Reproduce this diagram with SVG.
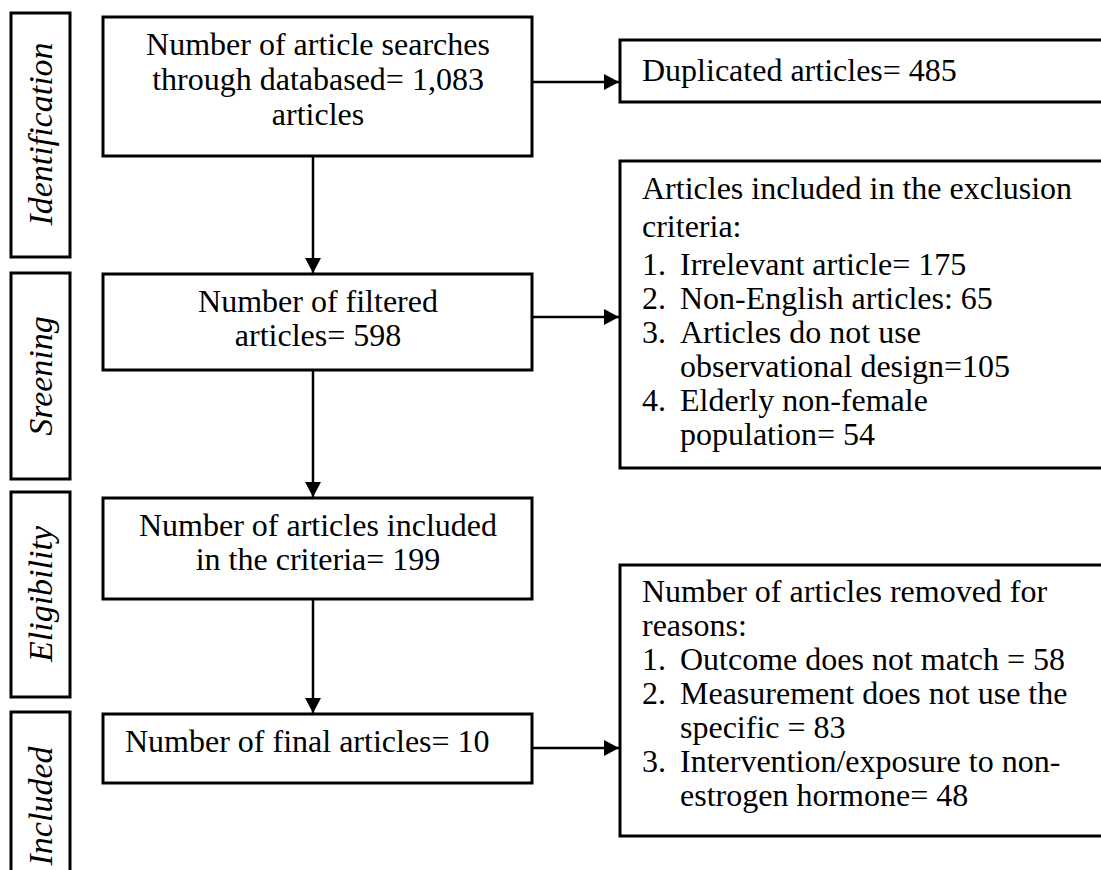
<svg xmlns="http://www.w3.org/2000/svg" width="1101" height="870" viewBox="0 0 1101 870">
<style>
  .box { fill: #ffffff; stroke: #000000; stroke-width: 3; }
  .t { font-family: "Liberation Serif", "Times New Roman", serif; font-size: 32px; fill: #000000; }
  .c { text-anchor: middle; }
  .lab { font-family: "Liberation Serif", "Times New Roman", serif; font-size: 34px; font-style: italic; fill: #000000; text-anchor: middle; }
  .conn { stroke: #000000; stroke-width: 2.5; fill: none; }
</style>
<defs>
  <marker id="arrow" markerUnits="userSpaceOnUse" markerWidth="16" markerHeight="16" refX="15" refY="8" orient="auto">
    <path d="M0,0 L15,8 L0,16 Z" fill="#000000"/>
  </marker>
</defs>
<rect width="1101" height="870" fill="#ffffff"/>

<g id="label-identification">
  <rect class="box" x="11" y="13" width="59" height="244"/>
  <text class="lab" transform="translate(52,134) rotate(-90)">Identification</text>
</g>
<g id="label-screening">
  <rect class="box" x="11" y="273" width="59" height="206"/>
  <text class="lab" transform="translate(52,376) rotate(-90)">Sreening</text>
</g>
<g id="label-eligibility">
  <rect class="box" x="11" y="492" width="59" height="205"/>
  <text class="lab" transform="translate(52,594) rotate(-90)">Eligibility</text>
</g>
<g id="label-included">
  <rect class="box" x="11" y="712" width="59" height="175"/>
  <text class="lab" transform="translate(52,806) rotate(-90)">Included</text>
</g>

<g id="node-searched">
  <rect class="box" x="103" y="17" width="429" height="139"/>
  <text class="t c" x="318" y="55">Number of article searches</text>
  <text class="t c" x="318" y="90">through databased= 1,083</text>
  <text class="t c" x="318" y="125">articles</text>
</g>
<g id="node-filtered">
  <rect class="box" x="103" y="274" width="429" height="96"/>
  <text class="t c" x="318" y="312">Number of filtered</text>
  <text class="t c" x="318" y="346">articles= 598</text>
</g>
<g id="node-criteria">
  <rect class="box" x="103" y="498" width="429" height="101"/>
  <text class="t c" x="318" y="536">Number of articles included</text>
  <text class="t c" x="318" y="570">in the criteria= 199</text>
</g>
<g id="node-final">
  <rect class="box" x="103" y="714" width="429" height="69"/>
  <text class="t" x="125" y="752">Number of final articles= 10</text>
</g>

<g id="node-duplicated">
  <rect class="box" x="620" y="40" width="500" height="62"/>
  <text class="t" x="642" y="81">Duplicated articles= 485</text>
</g>
<g id="node-exclusion">
  <rect class="box" x="620" y="161" width="500" height="307"/>
  <text class="t" x="642" y="199">Articles included in the exclusion</text>
  <text class="t" x="642" y="237">criteria:</text>
  <text class="t" x="642" y="275">1.<tspan x="680">Irrelevant article= 175</tspan></text>
  <text class="t" x="642" y="309">2.<tspan x="680">Non-English articles: 65</tspan></text>
  <text class="t" x="642" y="343">3.<tspan x="680">Articles do not use</tspan></text>
  <text class="t" x="680" y="377">observational design=105</text>
  <text class="t" x="642" y="411">4.<tspan x="680">Elderly non-female</tspan></text>
  <text class="t" x="680" y="445">population= 54</text>
</g>
<g id="node-removed">
  <rect class="box" x="620" y="565" width="500" height="271"/>
  <text class="t" x="642" y="602">Number of articles removed for</text>
  <text class="t" x="642" y="636">reasons:</text>
  <text class="t" x="642" y="670">1.<tspan x="680">Outcome does not match = 58</tspan></text>
  <text class="t" x="642" y="704">2.<tspan x="680">Measurement does not use the</tspan></text>
  <text class="t" x="680" y="738">specific = 83</text>
  <text class="t" x="642" y="772">3.<tspan x="680">Intervention/exposure to non-</tspan></text>
  <text class="t" x="680" y="806">estrogen hormone= 48</text>
</g>

<g id="connectors">
  <line class="conn" x1="313" y1="156" x2="313" y2="273" marker-end="url(#arrow)"/>
  <line class="conn" x1="313" y1="370" x2="313" y2="497" marker-end="url(#arrow)"/>
  <line class="conn" x1="313" y1="599" x2="313" y2="713" marker-end="url(#arrow)"/>
  <line class="conn" x1="532" y1="82" x2="619" y2="82" marker-end="url(#arrow)"/>
  <line class="conn" x1="532" y1="317" x2="619" y2="317" marker-end="url(#arrow)"/>
  <line class="conn" x1="532" y1="748" x2="619" y2="748" marker-end="url(#arrow)"/>
</g>
</svg>
